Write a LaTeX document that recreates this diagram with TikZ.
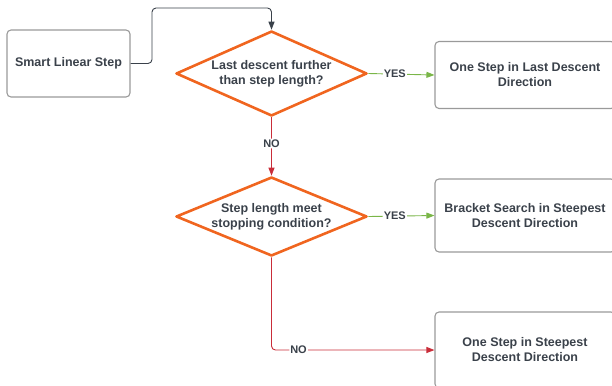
\documentclass[tikz,border=0pt]{standalone}
\usepackage{fontspec}
\setmainfont{Liberation Sans}
\usetikzlibrary{positioning,shapes.geometric,arrows.meta}

\definecolor{textgray}{HTML}{3A414A}
\definecolor{boxgray}{HTML}{9A9A9A}
\definecolor{decorange}{HTML}{F0651F}
\definecolor{yesgreen}{HTML}{7AB648}
\definecolor{nored}{HTML}{C92D39}

\begin{document}
\begin{tikzpicture}[
                x=1bp, y=-1bp,
                every node/.append style={text=textgray,font=\bfseries\fontsize{12.5bp}{15bp}\selectfont},
                stepbox/.style={draw=boxgray,line width=1.1bp,rounded corners=4bp,minimum width=180bp,align=center},
                decision/.style={diamond,draw=decorange,line width=2.6bp,line join=round,inner sep=0pt,minimum width=191bp},
                flow/.style={line width=0.9bp,rounded corners=4bp,-{Triangle[length=8bp,width=6bp]}},
                answer/.style={fill=white,inner sep=1bp,font=\bfseries\fontsize{11bp}{13bp}\selectfont}
            ]
                \useasboundingbox (0,0) rectangle (612,385);
                \node (smart) [stepbox,minimum width=123bp,minimum height=67bp] at (68.5,63.5) {Smart Linear Step};
                \node (dec1) [decision,minimum height=85bp,
                    label={[align=center]center:Last descent further\\than step length?}] at (271.5,73.5) {};
                \node (dec2) [decision,minimum height=79bp,
                    label={[align=center]center:Step length meet\\stopping condition?}] at (271.5,216.5) {};
                \node (step1) [stepbox,minimum height=67bp] at (525,75) {One Step in Last Descent\\Direction};
                \node (step2) [stepbox,minimum height=73bp] at (525,215.5) {Bracket Search in Steepest\\Descent Direction};
                \node (step3) [stepbox,minimum height=76bp] at (525,350) {One Step in Steepest\\Descent Direction};
                \coordinate (turn) at (152,8);
                \draw[flow,draw=textgray] (smart.east) -| (turn) -| (dec1.north);
                \draw[flow,draw=yesgreen] (dec1.east) -- node[answer,pos=0.4] {YES} (step1.west);
                \draw[flow,draw=nored] (dec1.south) -- node[answer,pos=0.45] {NO} (dec2.north);
                \draw[flow,draw=yesgreen] (dec2.east) -- node[answer,pos=0.4] {YES} (step2.west);
                \draw[flow,draw=nored] (dec2.south) |- node[answer,pos=0.583] {NO} (step3.west);
            \end{tikzpicture}
\end{document}
